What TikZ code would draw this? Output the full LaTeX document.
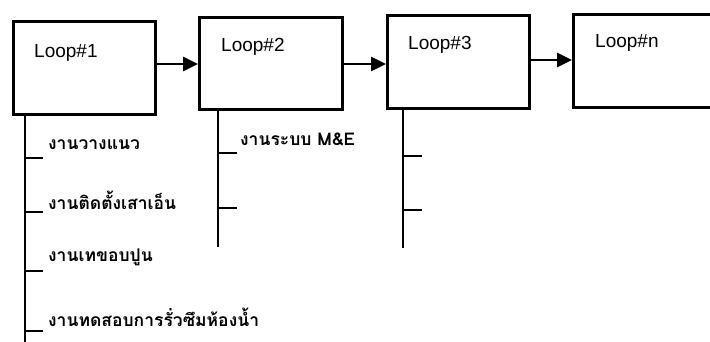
\documentclass[tikz,border=0pt]{standalone}
\usepackage{fontspec}
\setmainfont{Liberation Sans}
\newfontfamily\thaifont[Script=Thai]{Loma}
\usetikzlibrary{arrows.meta}
\tikzset{
  loopbox/.style={draw, line width=2.6pt, inner sep=0pt, anchor=north west},
  looplabel/.style={anchor=west, inner sep=0pt, font=\fontsize{19}{22}\selectfont},
  flow/.style={line width=2.6pt, -{Triangle[length=15pt,width=14pt]}},
  stem/.style={line width=2.4pt},
  tick/.style={line width=2.4pt},
  task/.style={anchor=west, inner sep=0pt, font=\thaifont\bfseries\fontsize{17.5}{20}\selectfont}
}
\begin{document}
\begin{tikzpicture}[x=1pt,y=-1pt]
\useasboundingbox (0,0) rectangle (710,342);
% boxes
\node[loopbox, minimum width=142pt, minimum height=93pt] (b1) at (12,20) {};
\node[loopbox, minimum width=143pt, minimum height=92pt] (b2) at (198,16) {};
\node[loopbox, minimum width=142pt, minimum height=93pt] (b3) at (386,14) {};
\node[loopbox, minimum width=138pt, minimum height=93pt] (bn) at (572,13) {};
% labels
\node[looplabel] (l1) at (34,53) {Loop\#1};
\node[looplabel] (l2) at (221,47) {Loop\#2};
\node[looplabel] (l3) at (408,45) {Loop\#3};
\node[looplabel] (ln) at (595,43) {Loop\#n};
% arrows
\draw[flow] (b1.east |- 0,64) -- (b2.west |- 0,64);
\draw[flow] (b2.east |- 0,64) -- (b3.west |- 0,64);
\draw[flow] (b3.east |- 0,60) -- (bn.west |- 0,60);
% stem 1
\coordinate (s1top) at (25,113);
\coordinate (s1bot) at (25,342);
\draw[stem] (s1top) -- (s1bot);
\coordinate (t11) at (25,158); \coordinate (e11) at (43,158);
\coordinate (t12) at (25,212); \coordinate (e12) at (43,212);
\coordinate (t13) at (25,271); \coordinate (e13) at (43,271);
\coordinate (t14) at (25,331); \coordinate (e14) at (43,331);
\draw[tick] (t11) -- (e11);
\draw[tick] (t12) -- (e12);
\draw[tick] (t13) -- (e13);
\draw[tick] (t14) -- (e14);
\node[task] (a1) at (48,145) {งานวางแนว};
\node[task] (a2) at (48,200) {งานติดตั้งเสาเอ็น};
\node[task] (a3) at (48,257) {งานเทขอบปูน};
\node[task] (a4) at (48,317) {งานทดสอบการรั่วซึมห้องน้ำ};
% stem 2
\coordinate (s2top) at (218,108);
\coordinate (s2bot) at (218,247);
\draw[stem] (s2top) -- (s2bot);
\coordinate (t21) at (218,153); \coordinate (e21) at (237,153);
\coordinate (t22) at (218,208); \coordinate (e22) at (237,208);
\draw[tick] (t21) -- (e21);
\draw[tick] (t22) -- (e22);
\node[task] (m1) at (240,140) {งานระบบ M\&E};
% stem 3
\coordinate (s3top) at (403,107);
\coordinate (s3bot) at (403,248);
\draw[stem] (s3top) -- (s3bot);
\coordinate (t31) at (403,156); \coordinate (e31) at (422,156);
\coordinate (t32) at (403,210); \coordinate (e32) at (422,210);
\draw[tick] (t31) -- (e31);
\draw[tick] (t32) -- (e32);
\end{tikzpicture}
\end{document}
